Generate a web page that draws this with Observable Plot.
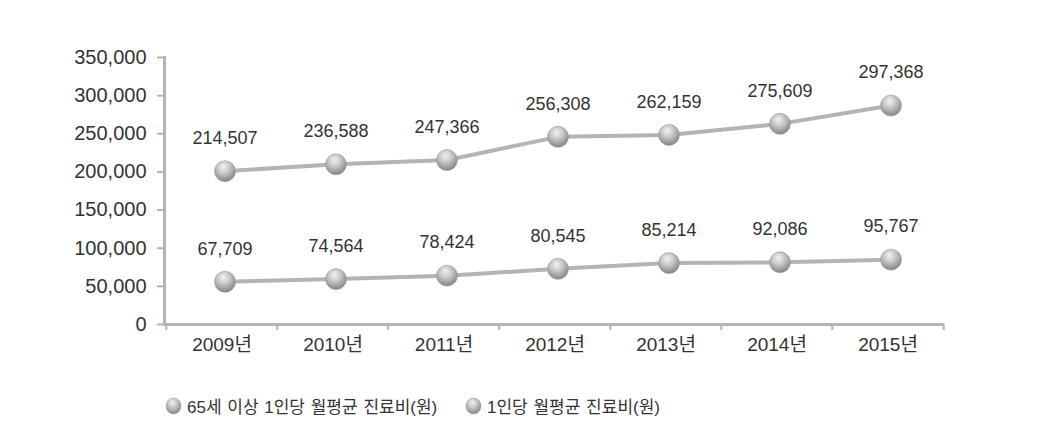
<!DOCTYPE html>
<html>
<head>
<meta charset="utf-8">
<script src="https://cdn.jsdelivr.net/npm/d3@7"></script>
<script src="https://cdn.jsdelivr.net/npm/@observablehq/plot@0.6"></script>
<style>
  body { margin: 0; background: #fff; font-family: "Liberation Sans", "Noto Sans CJK KR", sans-serif; }
  #legend { position: relative; height: 59px; font-family: "Liberation Sans", "Noto Sans CJK KR", sans-serif; font-size: 17px; color: #333; }
  .item { position: absolute; top: 13px; display: flex; align-items: center; white-space: nowrap; word-spacing: 1px; }
  .item svg { margin-right: 5px; }
</style>
</head>
<body>
<div id="chart"></div>
<div id="legend"></div>
<script>
const years = ["2009년", "2010년", "2011년", "2012년", "2013년", "2014년", "2015년"];
// plotted positions (as drawn in the picture)
const seniorPlotted = [201000, 210000, 215500, 246000, 248500, 263000, 287000];
const allPlotted = [56000, 59500, 64000, 73000, 80500, 81500, 85000];
// printed data labels
const seniorLabels = [214507, 236588, 247366, 256308, 262159, 275609, 297368];
const allLabels = [67709, 74564, 78424, 80545, 85214, 92086, 95767];
const seriesNames = ["65세 이상 1인당 월평균 진료비(원)", "1인당 월평균 진료비(원)"];
const yTicks = [0, 50000, 100000, 150000, 200000, 250000, 300000, 350000];

const rows = [];
years.forEach((y, i) => {
  rows.push({year: y, value: seniorPlotted[i], label: seniorLabels[i], series: seriesNames[0]});
  rows.push({year: y, value: allPlotted[i], label: allLabels[i], series: seriesNames[1]});
});

const W = 1037, H = 380;
const mL = 164, mR = 93, mT = 57, mB = 56;
const bw = (W - mL - mR) / years.length;
const fmt = d3.format(",");
const axisColor = "#b4b4b4";
const lineColor = "#b4b4b4";

const chart = Plot.plot({
  width: W, height: H,
  marginLeft: mL, marginRight: mR, marginTop: mT, marginBottom: mB,
  style: {fontFamily: "'Liberation Sans', 'Noto Sans CJK KR', sans-serif", color: "#333", background: "#fff"},
  x: {type: "band", domain: years, padding: 0},
  y: {domain: [0, 350000]},
  marks: [
    Plot.axisY({ticks: yTicks, tickFormat: fmt, tickSize: 7, tickPadding: 11, fontSize: 20, stroke: axisColor, strokeWidth: 2, label: null, fill: "#333"}),
    Plot.axisX({tickSize: 6, tickFormat: () => "", dx: -bw / 2, stroke: axisColor, strokeWidth: 2, label: null}),
    Plot.axisX([years[years.length - 1]], {tickSize: 6, tickFormat: () => "", dx: bw / 2, stroke: axisColor, strokeWidth: 2, label: null}),
    Plot.axisX({tickSize: 0, tickPadding: 13, fontSize: 19, label: null, fill: "#333"}),
    Plot.ruleY([0], {stroke: axisColor, strokeWidth: 3}),
    Plot.frame({anchor: "left", stroke: axisColor, strokeWidth: 3}),
    Plot.line(rows, {x: "year", y: "value", z: "series", stroke: lineColor, strokeWidth: 4, dx: 3}),
    Plot.dot(rows, {x: "year", y: "value", r: 10.5, fill: "url(#sphere)", stroke: "#9a9a9a", strokeWidth: 0.6, dx: 3}),
    Plot.text(rows, {x: "year", y: "value", text: d => fmt(d.label), dy: -33, dx: 3, fontSize: 18, fill: "#333"})
  ]
});

const defs = d3.select(chart).insert("defs", ":first-child");
const g = defs.append("radialGradient").attr("id", "sphere").attr("cx", "45%").attr("cy", "35%").attr("r", "65%").attr("fx", "42%").attr("fy", "28%");
g.append("stop").attr("offset", "0%").attr("stop-color", "#f2f2f2");
g.append("stop").attr("offset", "45%").attr("stop-color", "#c8c8c8");
g.append("stop").attr("offset", "85%").attr("stop-color", "#969696");
g.append("stop").attr("offset", "100%").attr("stop-color", "#858585");

document.getElementById("chart").appendChild(chart);

const legend = document.getElementById("legend");
const legendX = [165, 465];
seriesNames.forEach((name, i) => {
  const item = document.createElement("div");
  item.className = "item";
  item.style.left = legendX[i] + "px";
  item.innerHTML = `<svg width="17" height="18"><defs><radialGradient id="lg${i}" cx="45%" cy="35%" r="65%" fx="42%" fy="28%"><stop offset="0%" stop-color="#f2f2f2"/><stop offset="45%" stop-color="#c8c8c8"/><stop offset="85%" stop-color="#969696"/><stop offset="100%" stop-color="#858585"/></radialGradient></defs><ellipse cx="8.5" cy="9" rx="7.5" ry="8" fill="url(#lg${i})" stroke="#9a9a9a" stroke-width="0.5"/></svg><span>${name}</span>`;
  legend.appendChild(item);
});
</script>
</body>
</html>
